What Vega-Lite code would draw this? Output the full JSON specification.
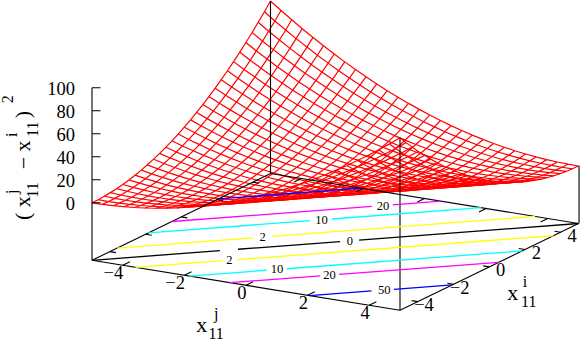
{"$schema":"https://vega.github.io/schema/vega-lite/v6.json","width":581,"height":341,"padding":0,"autosize":{"type":"none"},"background":"white","config":{"view":{"stroke":null},"text":{"font":"Liberation Serif","fill":"#000"}},
"datasets":{
"mesh":[
{"xj":-5,"xi":-5,"z":0},{"xj":-5,"xi":-4.66,"z":0.12},{"xj":-5,"xi":-4.31,"z":0.48},{"xj":-5,"xi":-3.97,"z":1.07},{"xj":-5,"xi":-3.62,"z":1.9},{"xj":-5,"xi":-3.28,"z":2.97},{"xj":-5,"xi":-2.93,"z":4.28},{"xj":-5,"xi":-2.59,"z":5.83},{"xj":-5,"xi":-2.24,"z":7.61},{"xj":-5,"xi":-1.9,"z":9.63},{"xj":-5,"xi":-1.55,"z":11.89},{"xj":-5,"xi":-1.21,"z":14.39},{"xj":-5,"xi":-0.86,"z":17.12},{"xj":-5,"xi":-0.52,"z":20.1},{"xj":-5,"xi":-0.17,"z":23.31},{"xj":-5,"xi":0.17,"z":26.75},{"xj":-5,"xi":0.52,"z":30.44},{"xj":-5,"xi":0.86,"z":34.36},{"xj":-5,"xi":1.21,"z":38.52},{"xj":-5,"xi":1.55,"z":42.93},{"xj":-5,"xi":1.9,"z":47.56},{"xj":-5,"xi":2.24,"z":52.44},{"xj":-5,"xi":2.59,"z":57.55},{"xj":-5,"xi":2.93,"z":62.9},{"xj":-5,"xi":3.28,"z":68.49},{"xj":-5,"xi":3.62,"z":74.32},{"xj":-5,"xi":3.97,"z":80.38},{"xj":-5,"xi":4.31,"z":86.68},{"xj":-5,"xi":4.66,"z":93.22},{"xj":-5,"xi":5,"z":100},
{"xj":-4.66,"xi":-5,"z":0.12},{"xj":-4.66,"xi":-4.66,"z":0},{"xj":-4.66,"xi":-4.31,"z":0.12},{"xj":-4.66,"xi":-3.97,"z":0.48},{"xj":-4.66,"xi":-3.62,"z":1.07},{"xj":-4.66,"xi":-3.28,"z":1.9},{"xj":-4.66,"xi":-2.93,"z":2.97},{"xj":-4.66,"xi":-2.59,"z":4.28},{"xj":-4.66,"xi":-2.24,"z":5.83},{"xj":-4.66,"xi":-1.9,"z":7.61},{"xj":-4.66,"xi":-1.55,"z":9.63},{"xj":-4.66,"xi":-1.21,"z":11.89},{"xj":-4.66,"xi":-0.86,"z":14.39},{"xj":-4.66,"xi":-0.52,"z":17.12},{"xj":-4.66,"xi":-0.17,"z":20.1},{"xj":-4.66,"xi":0.17,"z":23.31},{"xj":-4.66,"xi":0.52,"z":26.75},{"xj":-4.66,"xi":0.86,"z":30.44},{"xj":-4.66,"xi":1.21,"z":34.36},{"xj":-4.66,"xi":1.55,"z":38.52},{"xj":-4.66,"xi":1.9,"z":42.93},{"xj":-4.66,"xi":2.24,"z":47.56},{"xj":-4.66,"xi":2.59,"z":52.44},{"xj":-4.66,"xi":2.93,"z":57.55},{"xj":-4.66,"xi":3.28,"z":62.9},{"xj":-4.66,"xi":3.62,"z":68.49},{"xj":-4.66,"xi":3.97,"z":74.32},{"xj":-4.66,"xi":4.31,"z":80.38},{"xj":-4.66,"xi":4.66,"z":86.68},{"xj":-4.66,"xi":5,"z":93.22},
{"xj":-4.31,"xi":-5,"z":0.48},{"xj":-4.31,"xi":-4.66,"z":0.12},{"xj":-4.31,"xi":-4.31,"z":0},{"xj":-4.31,"xi":-3.97,"z":0.12},{"xj":-4.31,"xi":-3.62,"z":0.48},{"xj":-4.31,"xi":-3.28,"z":1.07},{"xj":-4.31,"xi":-2.93,"z":1.9},{"xj":-4.31,"xi":-2.59,"z":2.97},{"xj":-4.31,"xi":-2.24,"z":4.28},{"xj":-4.31,"xi":-1.9,"z":5.83},{"xj":-4.31,"xi":-1.55,"z":7.61},{"xj":-4.31,"xi":-1.21,"z":9.63},{"xj":-4.31,"xi":-0.86,"z":11.89},{"xj":-4.31,"xi":-0.52,"z":14.39},{"xj":-4.31,"xi":-0.17,"z":17.12},{"xj":-4.31,"xi":0.17,"z":20.1},{"xj":-4.31,"xi":0.52,"z":23.31},{"xj":-4.31,"xi":0.86,"z":26.75},{"xj":-4.31,"xi":1.21,"z":30.44},{"xj":-4.31,"xi":1.55,"z":34.36},{"xj":-4.31,"xi":1.9,"z":38.52},{"xj":-4.31,"xi":2.24,"z":42.93},{"xj":-4.31,"xi":2.59,"z":47.56},{"xj":-4.31,"xi":2.93,"z":52.44},{"xj":-4.31,"xi":3.28,"z":57.55},{"xj":-4.31,"xi":3.62,"z":62.9},{"xj":-4.31,"xi":3.97,"z":68.49},{"xj":-4.31,"xi":4.31,"z":74.32},{"xj":-4.31,"xi":4.66,"z":80.38},{"xj":-4.31,"xi":5,"z":86.68},
{"xj":-3.97,"xi":-5,"z":1.07},{"xj":-3.97,"xi":-4.66,"z":0.48},{"xj":-3.97,"xi":-4.31,"z":0.12},{"xj":-3.97,"xi":-3.97,"z":0},{"xj":-3.97,"xi":-3.62,"z":0.12},{"xj":-3.97,"xi":-3.28,"z":0.48},{"xj":-3.97,"xi":-2.93,"z":1.07},{"xj":-3.97,"xi":-2.59,"z":1.9},{"xj":-3.97,"xi":-2.24,"z":2.97},{"xj":-3.97,"xi":-1.9,"z":4.28},{"xj":-3.97,"xi":-1.55,"z":5.83},{"xj":-3.97,"xi":-1.21,"z":7.61},{"xj":-3.97,"xi":-0.86,"z":9.63},{"xj":-3.97,"xi":-0.52,"z":11.89},{"xj":-3.97,"xi":-0.17,"z":14.39},{"xj":-3.97,"xi":0.17,"z":17.12},{"xj":-3.97,"xi":0.52,"z":20.1},{"xj":-3.97,"xi":0.86,"z":23.31},{"xj":-3.97,"xi":1.21,"z":26.75},{"xj":-3.97,"xi":1.55,"z":30.44},{"xj":-3.97,"xi":1.9,"z":34.36},{"xj":-3.97,"xi":2.24,"z":38.52},{"xj":-3.97,"xi":2.59,"z":42.93},{"xj":-3.97,"xi":2.93,"z":47.56},{"xj":-3.97,"xi":3.28,"z":52.44},{"xj":-3.97,"xi":3.62,"z":57.55},{"xj":-3.97,"xi":3.97,"z":62.9},{"xj":-3.97,"xi":4.31,"z":68.49},{"xj":-3.97,"xi":4.66,"z":74.32},{"xj":-3.97,"xi":5,"z":80.38},
{"xj":-3.62,"xi":-5,"z":1.9},{"xj":-3.62,"xi":-4.66,"z":1.07},{"xj":-3.62,"xi":-4.31,"z":0.48},{"xj":-3.62,"xi":-3.97,"z":0.12},{"xj":-3.62,"xi":-3.62,"z":0},{"xj":-3.62,"xi":-3.28,"z":0.12},{"xj":-3.62,"xi":-2.93,"z":0.48},{"xj":-3.62,"xi":-2.59,"z":1.07},{"xj":-3.62,"xi":-2.24,"z":1.9},{"xj":-3.62,"xi":-1.9,"z":2.97},{"xj":-3.62,"xi":-1.55,"z":4.28},{"xj":-3.62,"xi":-1.21,"z":5.83},{"xj":-3.62,"xi":-0.86,"z":7.61},{"xj":-3.62,"xi":-0.52,"z":9.63},{"xj":-3.62,"xi":-0.17,"z":11.89},{"xj":-3.62,"xi":0.17,"z":14.39},{"xj":-3.62,"xi":0.52,"z":17.12},{"xj":-3.62,"xi":0.86,"z":20.1},{"xj":-3.62,"xi":1.21,"z":23.31},{"xj":-3.62,"xi":1.55,"z":26.75},{"xj":-3.62,"xi":1.9,"z":30.44},{"xj":-3.62,"xi":2.24,"z":34.36},{"xj":-3.62,"xi":2.59,"z":38.52},{"xj":-3.62,"xi":2.93,"z":42.93},{"xj":-3.62,"xi":3.28,"z":47.56},{"xj":-3.62,"xi":3.62,"z":52.44},{"xj":-3.62,"xi":3.97,"z":57.55},{"xj":-3.62,"xi":4.31,"z":62.9},{"xj":-3.62,"xi":4.66,"z":68.49},{"xj":-3.62,"xi":5,"z":74.32},
{"xj":-3.28,"xi":-5,"z":2.97},{"xj":-3.28,"xi":-4.66,"z":1.9},{"xj":-3.28,"xi":-4.31,"z":1.07},{"xj":-3.28,"xi":-3.97,"z":0.48},{"xj":-3.28,"xi":-3.62,"z":0.12},{"xj":-3.28,"xi":-3.28,"z":0},{"xj":-3.28,"xi":-2.93,"z":0.12},{"xj":-3.28,"xi":-2.59,"z":0.48},{"xj":-3.28,"xi":-2.24,"z":1.07},{"xj":-3.28,"xi":-1.9,"z":1.9},{"xj":-3.28,"xi":-1.55,"z":2.97},{"xj":-3.28,"xi":-1.21,"z":4.28},{"xj":-3.28,"xi":-0.86,"z":5.83},{"xj":-3.28,"xi":-0.52,"z":7.61},{"xj":-3.28,"xi":-0.17,"z":9.63},{"xj":-3.28,"xi":0.17,"z":11.89},{"xj":-3.28,"xi":0.52,"z":14.39},{"xj":-3.28,"xi":0.86,"z":17.12},{"xj":-3.28,"xi":1.21,"z":20.1},{"xj":-3.28,"xi":1.55,"z":23.31},{"xj":-3.28,"xi":1.9,"z":26.75},{"xj":-3.28,"xi":2.24,"z":30.44},{"xj":-3.28,"xi":2.59,"z":34.36},{"xj":-3.28,"xi":2.93,"z":38.52},{"xj":-3.28,"xi":3.28,"z":42.93},{"xj":-3.28,"xi":3.62,"z":47.56},{"xj":-3.28,"xi":3.97,"z":52.44},{"xj":-3.28,"xi":4.31,"z":57.55},{"xj":-3.28,"xi":4.66,"z":62.9},{"xj":-3.28,"xi":5,"z":68.49},
{"xj":-2.93,"xi":-5,"z":4.28},{"xj":-2.93,"xi":-4.66,"z":2.97},{"xj":-2.93,"xi":-4.31,"z":1.9},{"xj":-2.93,"xi":-3.97,"z":1.07},{"xj":-2.93,"xi":-3.62,"z":0.48},{"xj":-2.93,"xi":-3.28,"z":0.12},{"xj":-2.93,"xi":-2.93,"z":0},{"xj":-2.93,"xi":-2.59,"z":0.12},{"xj":-2.93,"xi":-2.24,"z":0.48},{"xj":-2.93,"xi":-1.9,"z":1.07},{"xj":-2.93,"xi":-1.55,"z":1.9},{"xj":-2.93,"xi":-1.21,"z":2.97},{"xj":-2.93,"xi":-0.86,"z":4.28},{"xj":-2.93,"xi":-0.52,"z":5.83},{"xj":-2.93,"xi":-0.17,"z":7.61},{"xj":-2.93,"xi":0.17,"z":9.63},{"xj":-2.93,"xi":0.52,"z":11.89},{"xj":-2.93,"xi":0.86,"z":14.39},{"xj":-2.93,"xi":1.21,"z":17.12},{"xj":-2.93,"xi":1.55,"z":20.1},{"xj":-2.93,"xi":1.9,"z":23.31},{"xj":-2.93,"xi":2.24,"z":26.75},{"xj":-2.93,"xi":2.59,"z":30.44},{"xj":-2.93,"xi":2.93,"z":34.36},{"xj":-2.93,"xi":3.28,"z":38.52},{"xj":-2.93,"xi":3.62,"z":42.93},{"xj":-2.93,"xi":3.97,"z":47.56},{"xj":-2.93,"xi":4.31,"z":52.44},{"xj":-2.93,"xi":4.66,"z":57.55},{"xj":-2.93,"xi":5,"z":62.9},
{"xj":-2.59,"xi":-5,"z":5.83},{"xj":-2.59,"xi":-4.66,"z":4.28},{"xj":-2.59,"xi":-4.31,"z":2.97},{"xj":-2.59,"xi":-3.97,"z":1.9},{"xj":-2.59,"xi":-3.62,"z":1.07},{"xj":-2.59,"xi":-3.28,"z":0.48},{"xj":-2.59,"xi":-2.93,"z":0.12},{"xj":-2.59,"xi":-2.59,"z":0},{"xj":-2.59,"xi":-2.24,"z":0.12},{"xj":-2.59,"xi":-1.9,"z":0.48},{"xj":-2.59,"xi":-1.55,"z":1.07},{"xj":-2.59,"xi":-1.21,"z":1.9},{"xj":-2.59,"xi":-0.86,"z":2.97},{"xj":-2.59,"xi":-0.52,"z":4.28},{"xj":-2.59,"xi":-0.17,"z":5.83},{"xj":-2.59,"xi":0.17,"z":7.61},{"xj":-2.59,"xi":0.52,"z":9.63},{"xj":-2.59,"xi":0.86,"z":11.89},{"xj":-2.59,"xi":1.21,"z":14.39},{"xj":-2.59,"xi":1.55,"z":17.12},{"xj":-2.59,"xi":1.9,"z":20.1},{"xj":-2.59,"xi":2.24,"z":23.31},{"xj":-2.59,"xi":2.59,"z":26.75},{"xj":-2.59,"xi":2.93,"z":30.44},{"xj":-2.59,"xi":3.28,"z":34.36},{"xj":-2.59,"xi":3.62,"z":38.52},{"xj":-2.59,"xi":3.97,"z":42.93},{"xj":-2.59,"xi":4.31,"z":47.56},{"xj":-2.59,"xi":4.66,"z":52.44},{"xj":-2.59,"xi":5,"z":57.55},
{"xj":-2.24,"xi":-5,"z":7.61},{"xj":-2.24,"xi":-4.66,"z":5.83},{"xj":-2.24,"xi":-4.31,"z":4.28},{"xj":-2.24,"xi":-3.97,"z":2.97},{"xj":-2.24,"xi":-3.62,"z":1.9},{"xj":-2.24,"xi":-3.28,"z":1.07},{"xj":-2.24,"xi":-2.93,"z":0.48},{"xj":-2.24,"xi":-2.59,"z":0.12},{"xj":-2.24,"xi":-2.24,"z":0},{"xj":-2.24,"xi":-1.9,"z":0.12},{"xj":-2.24,"xi":-1.55,"z":0.48},{"xj":-2.24,"xi":-1.21,"z":1.07},{"xj":-2.24,"xi":-0.86,"z":1.9},{"xj":-2.24,"xi":-0.52,"z":2.97},{"xj":-2.24,"xi":-0.17,"z":4.28},{"xj":-2.24,"xi":0.17,"z":5.83},{"xj":-2.24,"xi":0.52,"z":7.61},{"xj":-2.24,"xi":0.86,"z":9.63},{"xj":-2.24,"xi":1.21,"z":11.89},{"xj":-2.24,"xi":1.55,"z":14.39},{"xj":-2.24,"xi":1.9,"z":17.12},{"xj":-2.24,"xi":2.24,"z":20.1},{"xj":-2.24,"xi":2.59,"z":23.31},{"xj":-2.24,"xi":2.93,"z":26.75},{"xj":-2.24,"xi":3.28,"z":30.44},{"xj":-2.24,"xi":3.62,"z":34.36},{"xj":-2.24,"xi":3.97,"z":38.52},{"xj":-2.24,"xi":4.31,"z":42.93},{"xj":-2.24,"xi":4.66,"z":47.56},{"xj":-2.24,"xi":5,"z":52.44},
{"xj":-1.9,"xi":-5,"z":9.63},{"xj":-1.9,"xi":-4.66,"z":7.61},{"xj":-1.9,"xi":-4.31,"z":5.83},{"xj":-1.9,"xi":-3.97,"z":4.28},{"xj":-1.9,"xi":-3.62,"z":2.97},{"xj":-1.9,"xi":-3.28,"z":1.9},{"xj":-1.9,"xi":-2.93,"z":1.07},{"xj":-1.9,"xi":-2.59,"z":0.48},{"xj":-1.9,"xi":-2.24,"z":0.12},{"xj":-1.9,"xi":-1.9,"z":0},{"xj":-1.9,"xi":-1.55,"z":0.12},{"xj":-1.9,"xi":-1.21,"z":0.48},{"xj":-1.9,"xi":-0.86,"z":1.07},{"xj":-1.9,"xi":-0.52,"z":1.9},{"xj":-1.9,"xi":-0.17,"z":2.97},{"xj":-1.9,"xi":0.17,"z":4.28},{"xj":-1.9,"xi":0.52,"z":5.83},{"xj":-1.9,"xi":0.86,"z":7.61},{"xj":-1.9,"xi":1.21,"z":9.63},{"xj":-1.9,"xi":1.55,"z":11.89},{"xj":-1.9,"xi":1.9,"z":14.39},{"xj":-1.9,"xi":2.24,"z":17.12},{"xj":-1.9,"xi":2.59,"z":20.1},{"xj":-1.9,"xi":2.93,"z":23.31},{"xj":-1.9,"xi":3.28,"z":26.75},{"xj":-1.9,"xi":3.62,"z":30.44},{"xj":-1.9,"xi":3.97,"z":34.36},{"xj":-1.9,"xi":4.31,"z":38.52},{"xj":-1.9,"xi":4.66,"z":42.93},{"xj":-1.9,"xi":5,"z":47.56},
{"xj":-1.55,"xi":-5,"z":11.89},{"xj":-1.55,"xi":-4.66,"z":9.63},{"xj":-1.55,"xi":-4.31,"z":7.61},{"xj":-1.55,"xi":-3.97,"z":5.83},{"xj":-1.55,"xi":-3.62,"z":4.28},{"xj":-1.55,"xi":-3.28,"z":2.97},{"xj":-1.55,"xi":-2.93,"z":1.9},{"xj":-1.55,"xi":-2.59,"z":1.07},{"xj":-1.55,"xi":-2.24,"z":0.48},{"xj":-1.55,"xi":-1.9,"z":0.12},{"xj":-1.55,"xi":-1.55,"z":0},{"xj":-1.55,"xi":-1.21,"z":0.12},{"xj":-1.55,"xi":-0.86,"z":0.48},{"xj":-1.55,"xi":-0.52,"z":1.07},{"xj":-1.55,"xi":-0.17,"z":1.9},{"xj":-1.55,"xi":0.17,"z":2.97},{"xj":-1.55,"xi":0.52,"z":4.28},{"xj":-1.55,"xi":0.86,"z":5.83},{"xj":-1.55,"xi":1.21,"z":7.61},{"xj":-1.55,"xi":1.55,"z":9.63},{"xj":-1.55,"xi":1.9,"z":11.89},{"xj":-1.55,"xi":2.24,"z":14.39},{"xj":-1.55,"xi":2.59,"z":17.12},{"xj":-1.55,"xi":2.93,"z":20.1},{"xj":-1.55,"xi":3.28,"z":23.31},{"xj":-1.55,"xi":3.62,"z":26.75},{"xj":-1.55,"xi":3.97,"z":30.44},{"xj":-1.55,"xi":4.31,"z":34.36},{"xj":-1.55,"xi":4.66,"z":38.52},{"xj":-1.55,"xi":5,"z":42.93},
{"xj":-1.21,"xi":-5,"z":14.39},{"xj":-1.21,"xi":-4.66,"z":11.89},{"xj":-1.21,"xi":-4.31,"z":9.63},{"xj":-1.21,"xi":-3.97,"z":7.61},{"xj":-1.21,"xi":-3.62,"z":5.83},{"xj":-1.21,"xi":-3.28,"z":4.28},{"xj":-1.21,"xi":-2.93,"z":2.97},{"xj":-1.21,"xi":-2.59,"z":1.9},{"xj":-1.21,"xi":-2.24,"z":1.07},{"xj":-1.21,"xi":-1.9,"z":0.48},{"xj":-1.21,"xi":-1.55,"z":0.12},{"xj":-1.21,"xi":-1.21,"z":0},{"xj":-1.21,"xi":-0.86,"z":0.12},{"xj":-1.21,"xi":-0.52,"z":0.48},{"xj":-1.21,"xi":-0.17,"z":1.07},{"xj":-1.21,"xi":0.17,"z":1.9},{"xj":-1.21,"xi":0.52,"z":2.97},{"xj":-1.21,"xi":0.86,"z":4.28},{"xj":-1.21,"xi":1.21,"z":5.83},{"xj":-1.21,"xi":1.55,"z":7.61},{"xj":-1.21,"xi":1.9,"z":9.63},{"xj":-1.21,"xi":2.24,"z":11.89},{"xj":-1.21,"xi":2.59,"z":14.39},{"xj":-1.21,"xi":2.93,"z":17.12},{"xj":-1.21,"xi":3.28,"z":20.1},{"xj":-1.21,"xi":3.62,"z":23.31},{"xj":-1.21,"xi":3.97,"z":26.75},{"xj":-1.21,"xi":4.31,"z":30.44},{"xj":-1.21,"xi":4.66,"z":34.36},{"xj":-1.21,"xi":5,"z":38.52},
{"xj":-0.86,"xi":-5,"z":17.12},{"xj":-0.86,"xi":-4.66,"z":14.39},{"xj":-0.86,"xi":-4.31,"z":11.89},{"xj":-0.86,"xi":-3.97,"z":9.63},{"xj":-0.86,"xi":-3.62,"z":7.61},{"xj":-0.86,"xi":-3.28,"z":5.83},{"xj":-0.86,"xi":-2.93,"z":4.28},{"xj":-0.86,"xi":-2.59,"z":2.97},{"xj":-0.86,"xi":-2.24,"z":1.9},{"xj":-0.86,"xi":-1.9,"z":1.07},{"xj":-0.86,"xi":-1.55,"z":0.48},{"xj":-0.86,"xi":-1.21,"z":0.12},{"xj":-0.86,"xi":-0.86,"z":0},{"xj":-0.86,"xi":-0.52,"z":0.12},{"xj":-0.86,"xi":-0.17,"z":0.48},{"xj":-0.86,"xi":0.17,"z":1.07},{"xj":-0.86,"xi":0.52,"z":1.9},{"xj":-0.86,"xi":0.86,"z":2.97},{"xj":-0.86,"xi":1.21,"z":4.28},{"xj":-0.86,"xi":1.55,"z":5.83},{"xj":-0.86,"xi":1.9,"z":7.61},{"xj":-0.86,"xi":2.24,"z":9.63},{"xj":-0.86,"xi":2.59,"z":11.89},{"xj":-0.86,"xi":2.93,"z":14.39},{"xj":-0.86,"xi":3.28,"z":17.12},{"xj":-0.86,"xi":3.62,"z":20.1},{"xj":-0.86,"xi":3.97,"z":23.31},{"xj":-0.86,"xi":4.31,"z":26.75},{"xj":-0.86,"xi":4.66,"z":30.44},{"xj":-0.86,"xi":5,"z":34.36},
{"xj":-0.52,"xi":-5,"z":20.1},{"xj":-0.52,"xi":-4.66,"z":17.12},{"xj":-0.52,"xi":-4.31,"z":14.39},{"xj":-0.52,"xi":-3.97,"z":11.89},{"xj":-0.52,"xi":-3.62,"z":9.63},{"xj":-0.52,"xi":-3.28,"z":7.61},{"xj":-0.52,"xi":-2.93,"z":5.83},{"xj":-0.52,"xi":-2.59,"z":4.28},{"xj":-0.52,"xi":-2.24,"z":2.97},{"xj":-0.52,"xi":-1.9,"z":1.9},{"xj":-0.52,"xi":-1.55,"z":1.07},{"xj":-0.52,"xi":-1.21,"z":0.48},{"xj":-0.52,"xi":-0.86,"z":0.12},{"xj":-0.52,"xi":-0.52,"z":0},{"xj":-0.52,"xi":-0.17,"z":0.12},{"xj":-0.52,"xi":0.17,"z":0.48},{"xj":-0.52,"xi":0.52,"z":1.07},{"xj":-0.52,"xi":0.86,"z":1.9},{"xj":-0.52,"xi":1.21,"z":2.97},{"xj":-0.52,"xi":1.55,"z":4.28},{"xj":-0.52,"xi":1.9,"z":5.83},{"xj":-0.52,"xi":2.24,"z":7.61},{"xj":-0.52,"xi":2.59,"z":9.63},{"xj":-0.52,"xi":2.93,"z":11.89},{"xj":-0.52,"xi":3.28,"z":14.39},{"xj":-0.52,"xi":3.62,"z":17.12},{"xj":-0.52,"xi":3.97,"z":20.1},{"xj":-0.52,"xi":4.31,"z":23.31},{"xj":-0.52,"xi":4.66,"z":26.75},{"xj":-0.52,"xi":5,"z":30.44},
{"xj":-0.17,"xi":-5,"z":23.31},{"xj":-0.17,"xi":-4.66,"z":20.1},{"xj":-0.17,"xi":-4.31,"z":17.12},{"xj":-0.17,"xi":-3.97,"z":14.39},{"xj":-0.17,"xi":-3.62,"z":11.89},{"xj":-0.17,"xi":-3.28,"z":9.63},{"xj":-0.17,"xi":-2.93,"z":7.61},{"xj":-0.17,"xi":-2.59,"z":5.83},{"xj":-0.17,"xi":-2.24,"z":4.28},{"xj":-0.17,"xi":-1.9,"z":2.97},{"xj":-0.17,"xi":-1.55,"z":1.9},{"xj":-0.17,"xi":-1.21,"z":1.07},{"xj":-0.17,"xi":-0.86,"z":0.48},{"xj":-0.17,"xi":-0.52,"z":0.12},{"xj":-0.17,"xi":-0.17,"z":0},{"xj":-0.17,"xi":0.17,"z":0.12},{"xj":-0.17,"xi":0.52,"z":0.48},{"xj":-0.17,"xi":0.86,"z":1.07},{"xj":-0.17,"xi":1.21,"z":1.9},{"xj":-0.17,"xi":1.55,"z":2.97},{"xj":-0.17,"xi":1.9,"z":4.28},{"xj":-0.17,"xi":2.24,"z":5.83},{"xj":-0.17,"xi":2.59,"z":7.61},{"xj":-0.17,"xi":2.93,"z":9.63},{"xj":-0.17,"xi":3.28,"z":11.89},{"xj":-0.17,"xi":3.62,"z":14.39},{"xj":-0.17,"xi":3.97,"z":17.12},{"xj":-0.17,"xi":4.31,"z":20.1},{"xj":-0.17,"xi":4.66,"z":23.31},{"xj":-0.17,"xi":5,"z":26.75},
{"xj":0.17,"xi":-5,"z":26.75},{"xj":0.17,"xi":-4.66,"z":23.31},{"xj":0.17,"xi":-4.31,"z":20.1},{"xj":0.17,"xi":-3.97,"z":17.12},{"xj":0.17,"xi":-3.62,"z":14.39},{"xj":0.17,"xi":-3.28,"z":11.89},{"xj":0.17,"xi":-2.93,"z":9.63},{"xj":0.17,"xi":-2.59,"z":7.61},{"xj":0.17,"xi":-2.24,"z":5.83},{"xj":0.17,"xi":-1.9,"z":4.28},{"xj":0.17,"xi":-1.55,"z":2.97},{"xj":0.17,"xi":-1.21,"z":1.9},{"xj":0.17,"xi":-0.86,"z":1.07},{"xj":0.17,"xi":-0.52,"z":0.48},{"xj":0.17,"xi":-0.17,"z":0.12},{"xj":0.17,"xi":0.17,"z":0},{"xj":0.17,"xi":0.52,"z":0.12},{"xj":0.17,"xi":0.86,"z":0.48},{"xj":0.17,"xi":1.21,"z":1.07},{"xj":0.17,"xi":1.55,"z":1.9},{"xj":0.17,"xi":1.9,"z":2.97},{"xj":0.17,"xi":2.24,"z":4.28},{"xj":0.17,"xi":2.59,"z":5.83},{"xj":0.17,"xi":2.93,"z":7.61},{"xj":0.17,"xi":3.28,"z":9.63},{"xj":0.17,"xi":3.62,"z":11.89},{"xj":0.17,"xi":3.97,"z":14.39},{"xj":0.17,"xi":4.31,"z":17.12},{"xj":0.17,"xi":4.66,"z":20.1},{"xj":0.17,"xi":5,"z":23.31},
{"xj":0.52,"xi":-5,"z":30.44},{"xj":0.52,"xi":-4.66,"z":26.75},{"xj":0.52,"xi":-4.31,"z":23.31},{"xj":0.52,"xi":-3.97,"z":20.1},{"xj":0.52,"xi":-3.62,"z":17.12},{"xj":0.52,"xi":-3.28,"z":14.39},{"xj":0.52,"xi":-2.93,"z":11.89},{"xj":0.52,"xi":-2.59,"z":9.63},{"xj":0.52,"xi":-2.24,"z":7.61},{"xj":0.52,"xi":-1.9,"z":5.83},{"xj":0.52,"xi":-1.55,"z":4.28},{"xj":0.52,"xi":-1.21,"z":2.97},{"xj":0.52,"xi":-0.86,"z":1.9},{"xj":0.52,"xi":-0.52,"z":1.07},{"xj":0.52,"xi":-0.17,"z":0.48},{"xj":0.52,"xi":0.17,"z":0.12},{"xj":0.52,"xi":0.52,"z":0},{"xj":0.52,"xi":0.86,"z":0.12},{"xj":0.52,"xi":1.21,"z":0.48},{"xj":0.52,"xi":1.55,"z":1.07},{"xj":0.52,"xi":1.9,"z":1.9},{"xj":0.52,"xi":2.24,"z":2.97},{"xj":0.52,"xi":2.59,"z":4.28},{"xj":0.52,"xi":2.93,"z":5.83},{"xj":0.52,"xi":3.28,"z":7.61},{"xj":0.52,"xi":3.62,"z":9.63},{"xj":0.52,"xi":3.97,"z":11.89},{"xj":0.52,"xi":4.31,"z":14.39},{"xj":0.52,"xi":4.66,"z":17.12},{"xj":0.52,"xi":5,"z":20.1},
{"xj":0.86,"xi":-5,"z":34.36},{"xj":0.86,"xi":-4.66,"z":30.44},{"xj":0.86,"xi":-4.31,"z":26.75},{"xj":0.86,"xi":-3.97,"z":23.31},{"xj":0.86,"xi":-3.62,"z":20.1},{"xj":0.86,"xi":-3.28,"z":17.12},{"xj":0.86,"xi":-2.93,"z":14.39},{"xj":0.86,"xi":-2.59,"z":11.89},{"xj":0.86,"xi":-2.24,"z":9.63},{"xj":0.86,"xi":-1.9,"z":7.61},{"xj":0.86,"xi":-1.55,"z":5.83},{"xj":0.86,"xi":-1.21,"z":4.28},{"xj":0.86,"xi":-0.86,"z":2.97},{"xj":0.86,"xi":-0.52,"z":1.9},{"xj":0.86,"xi":-0.17,"z":1.07},{"xj":0.86,"xi":0.17,"z":0.48},{"xj":0.86,"xi":0.52,"z":0.12},{"xj":0.86,"xi":0.86,"z":0},{"xj":0.86,"xi":1.21,"z":0.12},{"xj":0.86,"xi":1.55,"z":0.48},{"xj":0.86,"xi":1.9,"z":1.07},{"xj":0.86,"xi":2.24,"z":1.9},{"xj":0.86,"xi":2.59,"z":2.97},{"xj":0.86,"xi":2.93,"z":4.28},{"xj":0.86,"xi":3.28,"z":5.83},{"xj":0.86,"xi":3.62,"z":7.61},{"xj":0.86,"xi":3.97,"z":9.63},{"xj":0.86,"xi":4.31,"z":11.89},{"xj":0.86,"xi":4.66,"z":14.39},{"xj":0.86,"xi":5,"z":17.12},
{"xj":1.21,"xi":-5,"z":38.52},{"xj":1.21,"xi":-4.66,"z":34.36},{"xj":1.21,"xi":-4.31,"z":30.44},{"xj":1.21,"xi":-3.97,"z":26.75},{"xj":1.21,"xi":-3.62,"z":23.31},{"xj":1.21,"xi":-3.28,"z":20.1},{"xj":1.21,"xi":-2.93,"z":17.12},{"xj":1.21,"xi":-2.59,"z":14.39},{"xj":1.21,"xi":-2.24,"z":11.89},{"xj":1.21,"xi":-1.9,"z":9.63},{"xj":1.21,"xi":-1.55,"z":7.61},{"xj":1.21,"xi":-1.21,"z":5.83},{"xj":1.21,"xi":-0.86,"z":4.28},{"xj":1.21,"xi":-0.52,"z":2.97},{"xj":1.21,"xi":-0.17,"z":1.9},{"xj":1.21,"xi":0.17,"z":1.07},{"xj":1.21,"xi":0.52,"z":0.48},{"xj":1.21,"xi":0.86,"z":0.12},{"xj":1.21,"xi":1.21,"z":0},{"xj":1.21,"xi":1.55,"z":0.12},{"xj":1.21,"xi":1.9,"z":0.48},{"xj":1.21,"xi":2.24,"z":1.07},{"xj":1.21,"xi":2.59,"z":1.9},{"xj":1.21,"xi":2.93,"z":2.97},{"xj":1.21,"xi":3.28,"z":4.28},{"xj":1.21,"xi":3.62,"z":5.83},{"xj":1.21,"xi":3.97,"z":7.61},{"xj":1.21,"xi":4.31,"z":9.63},{"xj":1.21,"xi":4.66,"z":11.89},{"xj":1.21,"xi":5,"z":14.39},
{"xj":1.55,"xi":-5,"z":42.93},{"xj":1.55,"xi":-4.66,"z":38.52},{"xj":1.55,"xi":-4.31,"z":34.36},{"xj":1.55,"xi":-3.97,"z":30.44},{"xj":1.55,"xi":-3.62,"z":26.75},{"xj":1.55,"xi":-3.28,"z":23.31},{"xj":1.55,"xi":-2.93,"z":20.1},{"xj":1.55,"xi":-2.59,"z":17.12},{"xj":1.55,"xi":-2.24,"z":14.39},{"xj":1.55,"xi":-1.9,"z":11.89},{"xj":1.55,"xi":-1.55,"z":9.63},{"xj":1.55,"xi":-1.21,"z":7.61},{"xj":1.55,"xi":-0.86,"z":5.83},{"xj":1.55,"xi":-0.52,"z":4.28},{"xj":1.55,"xi":-0.17,"z":2.97},{"xj":1.55,"xi":0.17,"z":1.9},{"xj":1.55,"xi":0.52,"z":1.07},{"xj":1.55,"xi":0.86,"z":0.48},{"xj":1.55,"xi":1.21,"z":0.12},{"xj":1.55,"xi":1.55,"z":0},{"xj":1.55,"xi":1.9,"z":0.12},{"xj":1.55,"xi":2.24,"z":0.48},{"xj":1.55,"xi":2.59,"z":1.07},{"xj":1.55,"xi":2.93,"z":1.9},{"xj":1.55,"xi":3.28,"z":2.97},{"xj":1.55,"xi":3.62,"z":4.28},{"xj":1.55,"xi":3.97,"z":5.83},{"xj":1.55,"xi":4.31,"z":7.61},{"xj":1.55,"xi":4.66,"z":9.63},{"xj":1.55,"xi":5,"z":11.89},
{"xj":1.9,"xi":-5,"z":47.56},{"xj":1.9,"xi":-4.66,"z":42.93},{"xj":1.9,"xi":-4.31,"z":38.52},{"xj":1.9,"xi":-3.97,"z":34.36},{"xj":1.9,"xi":-3.62,"z":30.44},{"xj":1.9,"xi":-3.28,"z":26.75},{"xj":1.9,"xi":-2.93,"z":23.31},{"xj":1.9,"xi":-2.59,"z":20.1},{"xj":1.9,"xi":-2.24,"z":17.12},{"xj":1.9,"xi":-1.9,"z":14.39},{"xj":1.9,"xi":-1.55,"z":11.89},{"xj":1.9,"xi":-1.21,"z":9.63},{"xj":1.9,"xi":-0.86,"z":7.61},{"xj":1.9,"xi":-0.52,"z":5.83},{"xj":1.9,"xi":-0.17,"z":4.28},{"xj":1.9,"xi":0.17,"z":2.97},{"xj":1.9,"xi":0.52,"z":1.9},{"xj":1.9,"xi":0.86,"z":1.07},{"xj":1.9,"xi":1.21,"z":0.48},{"xj":1.9,"xi":1.55,"z":0.12},{"xj":1.9,"xi":1.9,"z":0},{"xj":1.9,"xi":2.24,"z":0.12},{"xj":1.9,"xi":2.59,"z":0.48},{"xj":1.9,"xi":2.93,"z":1.07},{"xj":1.9,"xi":3.28,"z":1.9},{"xj":1.9,"xi":3.62,"z":2.97},{"xj":1.9,"xi":3.97,"z":4.28},{"xj":1.9,"xi":4.31,"z":5.83},{"xj":1.9,"xi":4.66,"z":7.61},{"xj":1.9,"xi":5,"z":9.63},
{"xj":2.24,"xi":-5,"z":52.44},{"xj":2.24,"xi":-4.66,"z":47.56},{"xj":2.24,"xi":-4.31,"z":42.93},{"xj":2.24,"xi":-3.97,"z":38.52},{"xj":2.24,"xi":-3.62,"z":34.36},{"xj":2.24,"xi":-3.28,"z":30.44},{"xj":2.24,"xi":-2.93,"z":26.75},{"xj":2.24,"xi":-2.59,"z":23.31},{"xj":2.24,"xi":-2.24,"z":20.1},{"xj":2.24,"xi":-1.9,"z":17.12},{"xj":2.24,"xi":-1.55,"z":14.39},{"xj":2.24,"xi":-1.21,"z":11.89},{"xj":2.24,"xi":-0.86,"z":9.63},{"xj":2.24,"xi":-0.52,"z":7.61},{"xj":2.24,"xi":-0.17,"z":5.83},{"xj":2.24,"xi":0.17,"z":4.28},{"xj":2.24,"xi":0.52,"z":2.97},{"xj":2.24,"xi":0.86,"z":1.9},{"xj":2.24,"xi":1.21,"z":1.07},{"xj":2.24,"xi":1.55,"z":0.48},{"xj":2.24,"xi":1.9,"z":0.12},{"xj":2.24,"xi":2.24,"z":0},{"xj":2.24,"xi":2.59,"z":0.12},{"xj":2.24,"xi":2.93,"z":0.48},{"xj":2.24,"xi":3.28,"z":1.07},{"xj":2.24,"xi":3.62,"z":1.9},{"xj":2.24,"xi":3.97,"z":2.97},{"xj":2.24,"xi":4.31,"z":4.28},{"xj":2.24,"xi":4.66,"z":5.83},{"xj":2.24,"xi":5,"z":7.61},
{"xj":2.59,"xi":-5,"z":57.55},{"xj":2.59,"xi":-4.66,"z":52.44},{"xj":2.59,"xi":-4.31,"z":47.56},{"xj":2.59,"xi":-3.97,"z":42.93},{"xj":2.59,"xi":-3.62,"z":38.52},{"xj":2.59,"xi":-3.28,"z":34.36},{"xj":2.59,"xi":-2.93,"z":30.44},{"xj":2.59,"xi":-2.59,"z":26.75},{"xj":2.59,"xi":-2.24,"z":23.31},{"xj":2.59,"xi":-1.9,"z":20.1},{"xj":2.59,"xi":-1.55,"z":17.12},{"xj":2.59,"xi":-1.21,"z":14.39},{"xj":2.59,"xi":-0.86,"z":11.89},{"xj":2.59,"xi":-0.52,"z":9.63},{"xj":2.59,"xi":-0.17,"z":7.61},{"xj":2.59,"xi":0.17,"z":5.83},{"xj":2.59,"xi":0.52,"z":4.28},{"xj":2.59,"xi":0.86,"z":2.97},{"xj":2.59,"xi":1.21,"z":1.9},{"xj":2.59,"xi":1.55,"z":1.07},{"xj":2.59,"xi":1.9,"z":0.48},{"xj":2.59,"xi":2.24,"z":0.12},{"xj":2.59,"xi":2.59,"z":0},{"xj":2.59,"xi":2.93,"z":0.12},{"xj":2.59,"xi":3.28,"z":0.48},{"xj":2.59,"xi":3.62,"z":1.07},{"xj":2.59,"xi":3.97,"z":1.9},{"xj":2.59,"xi":4.31,"z":2.97},{"xj":2.59,"xi":4.66,"z":4.28},{"xj":2.59,"xi":5,"z":5.83},
{"xj":2.93,"xi":-5,"z":62.9},{"xj":2.93,"xi":-4.66,"z":57.55},{"xj":2.93,"xi":-4.31,"z":52.44},{"xj":2.93,"xi":-3.97,"z":47.56},{"xj":2.93,"xi":-3.62,"z":42.93},{"xj":2.93,"xi":-3.28,"z":38.52},{"xj":2.93,"xi":-2.93,"z":34.36},{"xj":2.93,"xi":-2.59,"z":30.44},{"xj":2.93,"xi":-2.24,"z":26.75},{"xj":2.93,"xi":-1.9,"z":23.31},{"xj":2.93,"xi":-1.55,"z":20.1},{"xj":2.93,"xi":-1.21,"z":17.12},{"xj":2.93,"xi":-0.86,"z":14.39},{"xj":2.93,"xi":-0.52,"z":11.89},{"xj":2.93,"xi":-0.17,"z":9.63},{"xj":2.93,"xi":0.17,"z":7.61},{"xj":2.93,"xi":0.52,"z":5.83},{"xj":2.93,"xi":0.86,"z":4.28},{"xj":2.93,"xi":1.21,"z":2.97},{"xj":2.93,"xi":1.55,"z":1.9},{"xj":2.93,"xi":1.9,"z":1.07},{"xj":2.93,"xi":2.24,"z":0.48},{"xj":2.93,"xi":2.59,"z":0.12},{"xj":2.93,"xi":2.93,"z":0},{"xj":2.93,"xi":3.28,"z":0.12},{"xj":2.93,"xi":3.62,"z":0.48},{"xj":2.93,"xi":3.97,"z":1.07},{"xj":2.93,"xi":4.31,"z":1.9},{"xj":2.93,"xi":4.66,"z":2.97},{"xj":2.93,"xi":5,"z":4.28},
{"xj":3.28,"xi":-5,"z":68.49},{"xj":3.28,"xi":-4.66,"z":62.9},{"xj":3.28,"xi":-4.31,"z":57.55},{"xj":3.28,"xi":-3.97,"z":52.44},{"xj":3.28,"xi":-3.62,"z":47.56},{"xj":3.28,"xi":-3.28,"z":42.93},{"xj":3.28,"xi":-2.93,"z":38.52},{"xj":3.28,"xi":-2.59,"z":34.36},{"xj":3.28,"xi":-2.24,"z":30.44},{"xj":3.28,"xi":-1.9,"z":26.75},{"xj":3.28,"xi":-1.55,"z":23.31},{"xj":3.28,"xi":-1.21,"z":20.1},{"xj":3.28,"xi":-0.86,"z":17.12},{"xj":3.28,"xi":-0.52,"z":14.39},{"xj":3.28,"xi":-0.17,"z":11.89},{"xj":3.28,"xi":0.17,"z":9.63},{"xj":3.28,"xi":0.52,"z":7.61},{"xj":3.28,"xi":0.86,"z":5.83},{"xj":3.28,"xi":1.21,"z":4.28},{"xj":3.28,"xi":1.55,"z":2.97},{"xj":3.28,"xi":1.9,"z":1.9},{"xj":3.28,"xi":2.24,"z":1.07},{"xj":3.28,"xi":2.59,"z":0.48},{"xj":3.28,"xi":2.93,"z":0.12},{"xj":3.28,"xi":3.28,"z":0},{"xj":3.28,"xi":3.62,"z":0.12},{"xj":3.28,"xi":3.97,"z":0.48},{"xj":3.28,"xi":4.31,"z":1.07},{"xj":3.28,"xi":4.66,"z":1.9},{"xj":3.28,"xi":5,"z":2.97},
{"xj":3.62,"xi":-5,"z":74.32},{"xj":3.62,"xi":-4.66,"z":68.49},{"xj":3.62,"xi":-4.31,"z":62.9},{"xj":3.62,"xi":-3.97,"z":57.55},{"xj":3.62,"xi":-3.62,"z":52.44},{"xj":3.62,"xi":-3.28,"z":47.56},{"xj":3.62,"xi":-2.93,"z":42.93},{"xj":3.62,"xi":-2.59,"z":38.52},{"xj":3.62,"xi":-2.24,"z":34.36},{"xj":3.62,"xi":-1.9,"z":30.44},{"xj":3.62,"xi":-1.55,"z":26.75},{"xj":3.62,"xi":-1.21,"z":23.31},{"xj":3.62,"xi":-0.86,"z":20.1},{"xj":3.62,"xi":-0.52,"z":17.12},{"xj":3.62,"xi":-0.17,"z":14.39},{"xj":3.62,"xi":0.17,"z":11.89},{"xj":3.62,"xi":0.52,"z":9.63},{"xj":3.62,"xi":0.86,"z":7.61},{"xj":3.62,"xi":1.21,"z":5.83},{"xj":3.62,"xi":1.55,"z":4.28},{"xj":3.62,"xi":1.9,"z":2.97},{"xj":3.62,"xi":2.24,"z":1.9},{"xj":3.62,"xi":2.59,"z":1.07},{"xj":3.62,"xi":2.93,"z":0.48},{"xj":3.62,"xi":3.28,"z":0.12},{"xj":3.62,"xi":3.62,"z":0},{"xj":3.62,"xi":3.97,"z":0.12},{"xj":3.62,"xi":4.31,"z":0.48},{"xj":3.62,"xi":4.66,"z":1.07},{"xj":3.62,"xi":5,"z":1.9},
{"xj":3.97,"xi":-5,"z":80.38},{"xj":3.97,"xi":-4.66,"z":74.32},{"xj":3.97,"xi":-4.31,"z":68.49},{"xj":3.97,"xi":-3.97,"z":62.9},{"xj":3.97,"xi":-3.62,"z":57.55},{"xj":3.97,"xi":-3.28,"z":52.44},{"xj":3.97,"xi":-2.93,"z":47.56},{"xj":3.97,"xi":-2.59,"z":42.93},{"xj":3.97,"xi":-2.24,"z":38.52},{"xj":3.97,"xi":-1.9,"z":34.36},{"xj":3.97,"xi":-1.55,"z":30.44},{"xj":3.97,"xi":-1.21,"z":26.75},{"xj":3.97,"xi":-0.86,"z":23.31},{"xj":3.97,"xi":-0.52,"z":20.1},{"xj":3.97,"xi":-0.17,"z":17.12},{"xj":3.97,"xi":0.17,"z":14.39},{"xj":3.97,"xi":0.52,"z":11.89},{"xj":3.97,"xi":0.86,"z":9.63},{"xj":3.97,"xi":1.21,"z":7.61},{"xj":3.97,"xi":1.55,"z":5.83},{"xj":3.97,"xi":1.9,"z":4.28},{"xj":3.97,"xi":2.24,"z":2.97},{"xj":3.97,"xi":2.59,"z":1.9},{"xj":3.97,"xi":2.93,"z":1.07},{"xj":3.97,"xi":3.28,"z":0.48},{"xj":3.97,"xi":3.62,"z":0.12},{"xj":3.97,"xi":3.97,"z":0},{"xj":3.97,"xi":4.31,"z":0.12},{"xj":3.97,"xi":4.66,"z":0.48},{"xj":3.97,"xi":5,"z":1.07},
{"xj":4.31,"xi":-5,"z":86.68},{"xj":4.31,"xi":-4.66,"z":80.38},{"xj":4.31,"xi":-4.31,"z":74.32},{"xj":4.31,"xi":-3.97,"z":68.49},{"xj":4.31,"xi":-3.62,"z":62.9},{"xj":4.31,"xi":-3.28,"z":57.55},{"xj":4.31,"xi":-2.93,"z":52.44},{"xj":4.31,"xi":-2.59,"z":47.56},{"xj":4.31,"xi":-2.24,"z":42.93},{"xj":4.31,"xi":-1.9,"z":38.52},{"xj":4.31,"xi":-1.55,"z":34.36},{"xj":4.31,"xi":-1.21,"z":30.44},{"xj":4.31,"xi":-0.86,"z":26.75},{"xj":4.31,"xi":-0.52,"z":23.31},{"xj":4.31,"xi":-0.17,"z":20.1},{"xj":4.31,"xi":0.17,"z":17.12},{"xj":4.31,"xi":0.52,"z":14.39},{"xj":4.31,"xi":0.86,"z":11.89},{"xj":4.31,"xi":1.21,"z":9.63},{"xj":4.31,"xi":1.55,"z":7.61},{"xj":4.31,"xi":1.9,"z":5.83},{"xj":4.31,"xi":2.24,"z":4.28},{"xj":4.31,"xi":2.59,"z":2.97},{"xj":4.31,"xi":2.93,"z":1.9},{"xj":4.31,"xi":3.28,"z":1.07},{"xj":4.31,"xi":3.62,"z":0.48},{"xj":4.31,"xi":3.97,"z":0.12},{"xj":4.31,"xi":4.31,"z":0},{"xj":4.31,"xi":4.66,"z":0.12},{"xj":4.31,"xi":5,"z":0.48},
{"xj":4.66,"xi":-5,"z":93.22},{"xj":4.66,"xi":-4.66,"z":86.68},{"xj":4.66,"xi":-4.31,"z":80.38},{"xj":4.66,"xi":-3.97,"z":74.32},{"xj":4.66,"xi":-3.62,"z":68.49},{"xj":4.66,"xi":-3.28,"z":62.9},{"xj":4.66,"xi":-2.93,"z":57.55},{"xj":4.66,"xi":-2.59,"z":52.44},{"xj":4.66,"xi":-2.24,"z":47.56},{"xj":4.66,"xi":-1.9,"z":42.93},{"xj":4.66,"xi":-1.55,"z":38.52},{"xj":4.66,"xi":-1.21,"z":34.36},{"xj":4.66,"xi":-0.86,"z":30.44},{"xj":4.66,"xi":-0.52,"z":26.75},{"xj":4.66,"xi":-0.17,"z":23.31},{"xj":4.66,"xi":0.17,"z":20.1},{"xj":4.66,"xi":0.52,"z":17.12},{"xj":4.66,"xi":0.86,"z":14.39},{"xj":4.66,"xi":1.21,"z":11.89},{"xj":4.66,"xi":1.55,"z":9.63},{"xj":4.66,"xi":1.9,"z":7.61},{"xj":4.66,"xi":2.24,"z":5.83},{"xj":4.66,"xi":2.59,"z":4.28},{"xj":4.66,"xi":2.93,"z":2.97},{"xj":4.66,"xi":3.28,"z":1.9},{"xj":4.66,"xi":3.62,"z":1.07},{"xj":4.66,"xi":3.97,"z":0.48},{"xj":4.66,"xi":4.31,"z":0.12},{"xj":4.66,"xi":4.66,"z":0},{"xj":4.66,"xi":5,"z":0.12},
{"xj":5,"xi":-5,"z":100},{"xj":5,"xi":-4.66,"z":93.22},{"xj":5,"xi":-4.31,"z":86.68},{"xj":5,"xi":-3.97,"z":80.38},{"xj":5,"xi":-3.62,"z":74.32},{"xj":5,"xi":-3.28,"z":68.49},{"xj":5,"xi":-2.93,"z":62.9},{"xj":5,"xi":-2.59,"z":57.55},{"xj":5,"xi":-2.24,"z":52.44},{"xj":5,"xi":-1.9,"z":47.56},{"xj":5,"xi":-1.55,"z":42.93},{"xj":5,"xi":-1.21,"z":38.52},{"xj":5,"xi":-0.86,"z":34.36},{"xj":5,"xi":-0.52,"z":30.44},{"xj":5,"xi":-0.17,"z":26.75},{"xj":5,"xi":0.17,"z":23.31},{"xj":5,"xi":0.52,"z":20.1},{"xj":5,"xi":0.86,"z":17.12},{"xj":5,"xi":1.21,"z":14.39},{"xj":5,"xi":1.55,"z":11.89},{"xj":5,"xi":1.9,"z":9.63},{"xj":5,"xi":2.24,"z":7.61},{"xj":5,"xi":2.59,"z":5.83},{"xj":5,"xi":2.93,"z":4.28},{"xj":5,"xi":3.28,"z":2.97},{"xj":5,"xi":3.62,"z":1.9},{"xj":5,"xi":3.97,"z":1.07},{"xj":5,"xi":4.31,"z":0.48},{"xj":5,"xi":4.66,"z":0.12},{"xj":5,"xi":5,"z":0}
],
"frame":[
{"s":"e1","xj":-5,"xi":-5,"z":-50},{"s":"e1","xj":5,"xi":-5,"z":-50},
{"s":"e2","xj":5,"xi":-5,"z":-50},{"s":"e2","xj":5,"xi":5,"z":-50},
{"s":"e3","xj":5,"xi":5,"z":-50},{"s":"e3","xj":-5,"xi":5,"z":-50},
{"s":"e4","xj":-5,"xi":5,"z":-50},{"s":"e4","xj":-5,"xi":-5,"z":-50},
{"s":"v1","xj":-5,"xi":-5,"z":-50},{"s":"v1","xj":-5,"xi":-5,"z":100},
{"s":"v2","xj":5,"xi":-5,"z":-50},{"s":"v2","xj":5,"xi":-5,"z":100},
{"s":"v3","xj":-5,"xi":5,"z":-50},{"s":"v3","xj":-5,"xi":5,"z":100},
{"s":"v4","xj":5,"xi":5.03,"z":-50},{"s":"v4","xj":5,"xi":5.03,"z":0},
{"s":"zt0","xj":-5,"xi":-5,"z":0},{"s":"zt0","xj":-4.793,"xi":-4.881,"z":0},
{"s":"zt20","xj":-5,"xi":-5,"z":20},{"s":"zt20","xj":-4.793,"xi":-4.881,"z":20},
{"s":"zt40","xj":-5,"xi":-5,"z":40},{"s":"zt40","xj":-4.793,"xi":-4.881,"z":40},
{"s":"zt60","xj":-5,"xi":-5,"z":60},{"s":"zt60","xj":-4.793,"xi":-4.881,"z":60},
{"s":"zt80","xj":-5,"xi":-5,"z":80},{"s":"zt80","xj":-4.793,"xi":-4.881,"z":80},
{"s":"zt100","xj":-5,"xi":-5,"z":100},{"s":"zt100","xj":-4.793,"xi":-4.881,"z":100},
{"s":"jf-4","xj":-4,"xi":-5,"z":-50},{"s":"jf-4","xj":-4,"xi":-4.6,"z":-50},
{"s":"jf-2","xj":-2,"xi":-5,"z":-50},{"s":"jf-2","xj":-2,"xi":-4.6,"z":-50},
{"s":"jf0","xj":0,"xi":-5,"z":-50},{"s":"jf0","xj":0,"xi":-4.6,"z":-50},
{"s":"jf2","xj":2,"xi":-5,"z":-50},{"s":"jf2","xj":2,"xi":-4.6,"z":-50},
{"s":"jf4","xj":4,"xi":-5,"z":-50},{"s":"jf4","xj":4,"xi":-4.6,"z":-50},
{"s":"jb-4","xj":-4,"xi":5,"z":-50},{"s":"jb-4","xj":-4,"xi":4.6,"z":-50},
{"s":"jb-2","xj":-2,"xi":5,"z":-50},{"s":"jb-2","xj":-2,"xi":4.6,"z":-50},
{"s":"jb0","xj":0,"xi":5,"z":-50},{"s":"jb0","xj":0,"xi":4.6,"z":-50},
{"s":"jb2","xj":2,"xi":5,"z":-50},{"s":"jb2","xj":2,"xi":4.6,"z":-50},
{"s":"jb4","xj":4,"xi":5,"z":-50},{"s":"jb4","xj":4,"xi":4.6,"z":-50},
{"s":"if-4","xj":5,"xi":-4,"z":-50},{"s":"if-4","xj":4.8,"xi":-4,"z":-50},
{"s":"if-2","xj":5,"xi":-2,"z":-50},{"s":"if-2","xj":4.8,"xi":-2,"z":-50},
{"s":"if0","xj":5,"xi":0,"z":-50},{"s":"if0","xj":4.8,"xi":0,"z":-50},
{"s":"if2","xj":5,"xi":2,"z":-50},{"s":"if2","xj":4.8,"xi":2,"z":-50},
{"s":"if4","xj":5,"xi":4,"z":-50},{"s":"if4","xj":4.8,"xi":4,"z":-50},
{"s":"ib-4","xj":-5,"xi":-4,"z":-50},{"s":"ib-4","xj":-4.8,"xi":-4,"z":-50},
{"s":"ib-2","xj":-5,"xi":-2,"z":-50},{"s":"ib-2","xj":-4.8,"xi":-2,"z":-50},
{"s":"ib0","xj":-5,"xi":0,"z":-50},{"s":"ib0","xj":-4.8,"xi":0,"z":-50},
{"s":"ib2","xj":-5,"xi":2,"z":-50},{"s":"ib2","xj":-4.8,"xi":2,"z":-50},
{"s":"ib4","xj":-5,"xi":4,"z":-50},{"s":"ib4","xj":-4.8,"xi":4,"z":-50}
],
"contours":[
{"s":"50a","level":"50","xj":2.07,"xi":-5,"z":-50},{"s":"50a","level":"50","xj":3.34,"xi":-3.73,"z":-50},
{"s":"50b","level":"50","xj":3.8,"xi":-3.27,"z":-50},{"s":"50b","level":"50","xj":5,"xi":-2.07,"z":-50},
{"s":"20a","level":"20","xj":-0.53,"xi":-5,"z":-50},{"s":"20a","level":"20","xj":1.33,"xi":-3.14,"z":-50},
{"s":"20b","level":"20","xj":1.72,"xi":-2.75,"z":-50},{"s":"20b","level":"20","xj":5,"xi":0.53,"z":-50},
{"s":"10a","level":"10","xj":-1.84,"xi":-5,"z":-50},{"s":"10a","level":"10","xj":-0.25,"xi":-3.41,"z":-50},
{"s":"10b","level":"10","xj":0.16,"xi":-3,"z":-50},{"s":"10b","level":"10","xj":5,"xi":1.84,"z":-50},
{"s":"2a","level":"2","xj":-3.59,"xi":-5,"z":-50},{"s":"2a","level":"2","xj":-1.79,"xi":-3.2,"z":-50},
{"s":"2b","level":"2","xj":-1.5,"xi":-2.91,"z":-50},{"s":"2b","level":"2","xj":5,"xi":3.59,"z":-50},
{"s":"0a","level":"0","xj":-5,"xi":-5,"z":-50},{"s":"0a","level":"0","xj":-2.37,"xi":-2.37,"z":-50},
{"s":"0b","level":"0","xj":-2,"xi":-2,"z":-50},{"s":"0b","level":"0","xj":0.1,"xi":0.1,"z":-50},
{"s":"0c","level":"0","xj":0.49,"xi":0.49,"z":-50},{"s":"0c","level":"0","xj":5,"xi":5,"z":-50},
{"s":"2c","level":"2","xj":-5,"xi":-3.59,"z":-50},{"s":"2c","level":"2","xj":-2.21,"xi":-0.8,"z":-50},
{"s":"2d","level":"2","xj":-1.82,"xi":-0.41,"z":-50},{"s":"2d","level":"2","xj":3.59,"xi":5,"z":-50},
{"s":"10c","level":"10","xj":-5,"xi":-1.84,"z":-50},{"s":"10c","level":"10","xj":-1.68,"xi":1.48,"z":-50},
{"s":"10d","level":"10","xj":-1.23,"xi":1.93,"z":-50},{"s":"10d","level":"10","xj":1.84,"xi":5,"z":-50},
{"s":"20c","level":"20","xj":-5,"xi":-0.53,"z":-50},{"s":"20c","level":"20","xj":-0.89,"xi":3.58,"z":-50},
{"s":"20d","level":"20","xj":-0.46,"xi":4.01,"z":-50},{"s":"20d","level":"20","xj":0.53,"xi":5,"z":-50},
{"s":"50c","level":"50","xj":-5,"xi":2.07,"z":-50},{"s":"50c","level":"50","xj":-2.07,"xi":5,"z":-50}
],
"contourLabels":[
{"t":"50","xj":3.6,"xi":-3.47,"z":-50},{"t":"20","xj":1.52,"xi":-2.95,"z":-50},{"t":"10","xj":-0.04,"xi":-3.2,"z":-50},{"t":"2","xj":-1.66,"xi":-3.07,"z":-50},{"t":"0","xj":0.3,"xi":0.3,"z":-50},{"t":"2","xj":-2.01,"xi":-0.6,"z":-50},{"t":"10","xj":-1.44,"xi":1.72,"z":-50},{"t":"20","xj":-0.66,"xi":3.81,"z":-50}
],
"zLabels":[{"t":"0","xj":-5,"xi":-5,"z":0},{"t":"20","xj":-5,"xi":-5,"z":20},{"t":"40","xj":-5,"xi":-5,"z":40},{"t":"60","xj":-5,"xi":-5,"z":60},{"t":"80","xj":-5,"xi":-5,"z":80},{"t":"100","xj":-5,"xi":-5,"z":100}],
"xjLabels":[{"t":"−4","xj":-4,"xi":-5,"z":-50},{"t":"−2","xj":-2,"xi":-5,"z":-50},{"t":"0","xj":0,"xi":-5,"z":-50},{"t":"2","xj":2,"xi":-5,"z":-50},{"t":"4","xj":4,"xi":-5,"z":-50}],
"xiLabels":[{"t":"−4","xj":5,"xi":-4,"z":-50},{"t":"−2","xj":5,"xi":-2,"z":-50},{"t":"0","xj":5,"xi":0,"z":-50},{"t":"2","xj":5,"xi":2,"z":-50},{"t":"4","xj":5,"xi":4,"z":-50}],
"titleBig":[{"t":"x","xj":-1.44,"xi":-5,"z":-90.8},{"t":"x","xj":8.66,"xi":-5,"z":-18.8}],
"titleSmall":[{"t":"j","xj":-0.97,"xi":-5,"z":-79.2},{"t":"11","xj":-0.97,"xi":-5,"z":-96.6},{"t":"i","xj":9.06,"xi":-5,"z":-7.5},{"t":"11","xj":9.18,"xi":-5,"z":-24.3}],
"zBig":[{"t":"x","xj":-7.23,"xi":-5,"z":-8.7},{"t":"(","xj":-7.23,"xi":-5,"z":-21.5},{"t":"x","xj":-7.23,"xi":-5,"z":39.7},{"t":"−","xj":-7.21,"xi":-5,"z":25},{"t":")","xj":-7.23,"xi":-5,"z":67}],
"zSmall":[{"t":"j","xj":-7.61,"xi":-5,"z":-1.7},{"t":"i","xj":-7.61,"xi":-5,"z":47.7},{"t":"2","xj":-7.72,"xi":-5,"z":78.2},{"t":"11","xj":-6.91,"xi":-5,"z":2.8},{"t":"11","xj":-6.91,"xi":-5,"z":55.6}]
},
"encoding":{"x":{"field":"px","type":"quantitative","axis":null,"scale":{"domain":[0,581],"nice":false,"zero":false}},"y":{"field":"py","type":"quantitative","axis":null,"scale":{"domain":[341,0],"nice":false,"zero":false}}},
"layer":[
{"data":{"name":"mesh"},"transform":[{"calculate":"92+30.8*(datum.xj+5)+17.85*(datum.xi+5)","as":"px"},{"calculate":"260.3+5*(datum.xj+5)-8.68*(datum.xi+5)-1.15*(datum.z+50)","as":"py"}],"mark":{"type":"line","stroke":"#ff0000","strokeWidth":1.2},"encoding":{"detail":{"field":"xj"}}},
{"data":{"name":"mesh"},"transform":[{"calculate":"92+30.8*(datum.xj+5)+17.85*(datum.xi+5)","as":"px"},{"calculate":"260.3+5*(datum.xj+5)-8.68*(datum.xi+5)-1.15*(datum.z+50)","as":"py"}],"mark":{"type":"line","stroke":"#ff0000","strokeWidth":1.2},"encoding":{"detail":{"field":"xi"}}},
{"data":{"name":"frame"},"transform":[{"calculate":"92+30.8*(datum.xj+5)+17.85*(datum.xi+5)","as":"px"},{"calculate":"260.3+5*(datum.xj+5)-8.68*(datum.xi+5)-1.15*(datum.z+50)","as":"py"}],"mark":{"type":"line","stroke":"#000","strokeWidth":1.1},"encoding":{"detail":{"field":"s"}}},
{"data":{"name":"contours"},"transform":[{"calculate":"92+30.8*(datum.xj+5)+17.85*(datum.xi+5)","as":"px"},{"calculate":"260.3+5*(datum.xj+5)-8.68*(datum.xi+5)-1.15*(datum.z+50)","as":"py"}],"mark":{"type":"line","strokeWidth":1.3},"encoding":{"detail":{"field":"s"},"color":{"field":"level","type":"nominal","legend":null,"scale":{"domain":["0","2","10","20","50"],"range":["#000000","#ffff00","#00ffff","#ff00ff","#0000ff"]}}}},
{"data":{"name":"contourLabels"},"transform":[{"calculate":"92+30.8*(datum.xj+5)+17.85*(datum.xi+5)","as":"px"},{"calculate":"260.3+5*(datum.xj+5)-8.68*(datum.xi+5)-1.15*(datum.z+50)","as":"py"}],"mark":{"type":"text","font":"Liberation Serif","fontSize":12.5,"align":"center","baseline":"middle"},"encoding":{"text":{"field":"t"}}},
{"data":{"name":"zLabels"},"transform":[{"calculate":"92+30.8*(datum.xj+5)+17.85*(datum.xi+5)","as":"px"},{"calculate":"260.3+5*(datum.xj+5)-8.68*(datum.xi+5)-1.15*(datum.z+50)","as":"py"}],"mark":{"type":"text","font":"Liberation Serif","fontSize":18.5,"align":"right","baseline":"middle","dx":-17,"dy":1},"encoding":{"text":{"field":"t"}}},
{"data":{"name":"xjLabels"},"transform":[{"calculate":"92+30.8*(datum.xj+5)+17.85*(datum.xi+5)","as":"px"},{"calculate":"260.3+5*(datum.xj+5)-8.68*(datum.xi+5)-1.15*(datum.z+50)","as":"py"}],"mark":{"type":"text","font":"Liberation Serif","fontSize":18.5,"align":"right","baseline":"middle","dx":0.5,"dy":8},"encoding":{"text":{"field":"t"}}},
{"data":{"name":"xiLabels"},"transform":[{"calculate":"92+30.8*(datum.xj+5)+17.85*(datum.xi+5)","as":"px"},{"calculate":"260.3+5*(datum.xj+5)-8.68*(datum.xi+5)-1.15*(datum.z+50)","as":"py"}],"mark":{"type":"text","font":"Liberation Serif","fontSize":18.5,"align":"right","baseline":"middle","dx":16,"dy":3.5},"encoding":{"text":{"field":"t"}}},
{"data":{"name":"titleBig"},"transform":[{"calculate":"92+30.8*(datum.xj+5)+17.85*(datum.xi+5)","as":"px"},{"calculate":"260.3+5*(datum.xj+5)-8.68*(datum.xi+5)-1.15*(datum.z+50)","as":"py"}],"mark":{"type":"text","font":"Liberation Serif","fontSize":22,"align":"center","baseline":"middle"},"encoding":{"text":{"field":"t"}}},
{"data":{"name":"titleSmall"},"transform":[{"calculate":"92+30.8*(datum.xj+5)+17.85*(datum.xi+5)","as":"px"},{"calculate":"260.3+5*(datum.xj+5)-8.68*(datum.xi+5)-1.15*(datum.z+50)","as":"py"}],"mark":{"type":"text","font":"Liberation Serif","fontSize":16,"align":"center","baseline":"middle"},"encoding":{"text":{"field":"t"}}},
{"data":{"name":"zBig"},"transform":[{"calculate":"92+30.8*(datum.xj+5)+17.85*(datum.xi+5)","as":"px"},{"calculate":"260.3+5*(datum.xj+5)-8.68*(datum.xi+5)-1.15*(datum.z+50)","as":"py"}],"mark":{"type":"text","font":"Liberation Serif","fontSize":22,"align":"center","baseline":"middle","angle":270},"encoding":{"text":{"field":"t"}}},
{"data":{"name":"zSmall"},"transform":[{"calculate":"92+30.8*(datum.xj+5)+17.85*(datum.xi+5)","as":"px"},{"calculate":"260.3+5*(datum.xj+5)-8.68*(datum.xi+5)-1.15*(datum.z+50)","as":"py"}],"mark":{"type":"text","font":"Liberation Serif","fontSize":16,"align":"center","baseline":"middle","angle":270},"encoding":{"text":{"field":"t"}}}
]}
